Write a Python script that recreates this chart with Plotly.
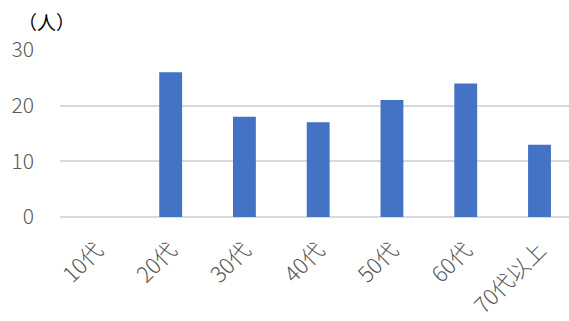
import plotly.graph_objects as go

categories = ["10代", "20代", "30代", "40代", "50代", "60代", "70代以上"]
values = [0, 26, 18, 17, 21, 24, 13]
y_ticks = [0, 10, 20, 30]

font_family = "Noto Sans CJK JP, Noto Sans, sans-serif"

fig = go.Figure(
    go.Bar(
        x=categories,
        y=values,
        marker=dict(color="#4472C4", line=dict(width=0)),
        width=0.31,
    )
)

fig.update_layout(
    width=569,
    height=321,
    margin=dict(l=60, r=0, t=50, b=104),
    paper_bgcolor="white",
    plot_bgcolor="white",
    showlegend=False,
    font=dict(family=font_family, color="#595959"),
    xaxis=dict(
        range=[-0.5, 6.4],
        tickangle=-45,
        tickfont=dict(size=22, color="#595959", weight=300),
        showgrid=False,
        showline=False,
        ticks="",
        ticklabelstandoff=15,
    ),
    yaxis=dict(
        range=[0, 30],
        tickvals=y_ticks,
        tickfont=dict(size=21, color="#595959", weight=300),
        showgrid=True,
        gridcolor="#D9D9D9",
        gridwidth=1.5,
        zeroline=True,
        zerolinecolor="#D9D9D9",
        zerolinewidth=1.5,
        ticks="",
        ticklabelstandoff=25,
    ),
    annotations=[
        dict(
            text="（人）",
            xref="paper", yref="paper",
            x=0, y=1,
            xshift=-44, yshift=29,
            xanchor="left", yanchor="middle",
            showarrow=False,
            font=dict(size=19, color="#000000", family=font_family),
        )
    ],
)

fig.write_html("out.html")
